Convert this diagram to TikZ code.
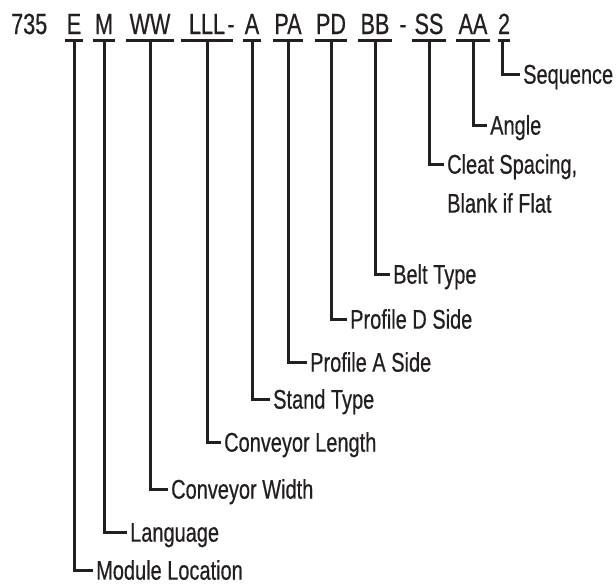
\documentclass[tikz,border=0pt]{standalone}
\usepackage{fontspec}
\setmainfont[FakeStretch=0.74, FakeBold=0.5]{Liberation Sans}
\usepackage{tikz}
\definecolor{ink}{RGB}{35,31,32}

\begin{document}
\begin{tikzpicture}[x=1pt,y=-1pt]
\tikzstyle{every node}+=[inner sep=0pt, text=ink, font=\fontsize{27}{32}\selectfont]
\tikzstyle{digit}=[anchor=base, inner xsep=2pt, inner ysep=6pt, text depth=0pt, font=\fontsize{29.2}{34}\selectfont]
\tikzstyle{desc}=[anchor=west, inner xsep=3pt, text height=19.3pt, text depth=0pt]
\tikzstyle{lead}=[ink, line width=3pt]
\useasboundingbox (0,0) rectangle (616,584);
% model number
\draw (11,34) node [digit, anchor=base west, inner xsep=0pt] (num) {735};
\draw (74,34) node [digit] (E) {E};
\draw (104,34) node [digit, inner xsep=1.5pt] (M) {M};
\draw (150,34) node [digit, inner xsep=3.6pt] (WW) {WW};
\draw (207,34) node [digit, inner xsep=7.5pt] (LLL) {LLL};
\draw (231,34) node [digit, inner xsep=0pt] (dashA) {-};
\draw (252,34) node [digit] (A) {A};
\draw (288,34) node [digit, inner xsep=1pt] (PA) {PA};
\draw (331,34) node [digit, inner xsep=1pt] (PD) {PD};
\draw (375,34) node [digit] (BB) {BB};
\draw (403,34) node [digit, inner xsep=0pt] (dashB) {-};
\draw (429,34) node [digit] (SS) {SS};
\draw (473,34) node [digit] (AA) {AA};
\draw (504,34) node [digit, inner xsep=0pt] (two) {2};
% descriptions
\draw (93,570) node [desc] (modloc) {Module Location};
\draw (127,532) node [desc] (lang) {Language};
\draw (168,489) node [desc] (convw) {Conveyor Width};
\draw (221,442) node [desc] (convl) {Conveyor Length};
\draw (270,399) node [desc] (stand) {Stand Type};
\draw (307,362) node [desc] (profa) {Profile A Side};
\draw (347,319) node [desc] (profd) {Profile D Side};
\draw (390,274) node [desc] (belt) {Belt Type};
\draw (444,164) node [desc] (cleat) {Cleat Spacing,};
\draw (444,203) node [desc] (flat) {Blank if Flat};
\draw (487,125) node [desc] (angle) {Angle};
\draw (520,74) node [desc] (seq) {Sequence};
% underlines
\foreach \n in {E,M,WW,LLL,A,PA,PD,BB,SS,AA,two}
  \draw [lead] (\n.south west) -- (\n.south east);
% leaders
\draw [lead] (E.south) |- (modloc.west);
\draw [lead] (M.south) |- (lang.west);
\draw [lead] (WW.south) |- (convw.west);
\draw [lead] (LLL.south) |- (convl.west);
\draw [lead] (A.south) |- (stand.west);
\draw [lead] (PA.south) |- (profa.west);
\draw [lead] (PD.south) |- (profd.west);
\draw [lead] (BB.south) |- (belt.west);
\draw [lead] (SS.south) |- (cleat.west);
\draw [lead] (AA.south) |- (angle.west);
\draw [lead] ([xshift=-2pt]two.south) |- (seq.west);
\end{tikzpicture}
\end{document}
